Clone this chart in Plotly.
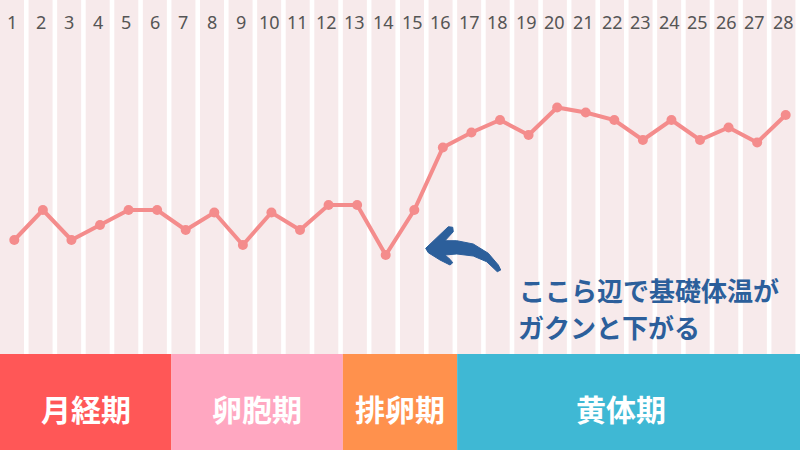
import plotly.graph_objects as go

# basal body temperature over a 28-day cycle
days = list(range(1, 29))
temps = [36.24, 36.36, 36.24, 36.30, 36.36, 36.36, 36.28, 36.35, 36.22, 36.35,
         36.28, 36.38, 36.38, 36.18, 36.36, 36.61, 36.67, 36.72, 36.66, 36.77,
         36.75, 36.72, 36.64, 36.72, 36.64, 36.69, 36.63, 36.74]

phase_names = ["月経期", "卵胞期", "排卵期", "黄体期"]
phase_first_day = [1, 7, 13, 17]
phase_last_day = [6, 12, 16, 28]
phase_colors = ["#FF5757", "#FFA7C1", "#FF914D", "#3FB8D4"]

note_lines = ["ここら辺で基礎体温が", "ガクンと下がる"]

W, H = 800, 450
BAND_TOP = 354  # pixel row where the phase band starts
band_h = (H - BAND_TOP) / H


def px(x, y):
    """pixel -> paper coords (margins are zero)"""
    return x / W, (H - y) / H


fig = go.Figure()

fig.add_trace(go.Scatter(
    x=days,
    y=temps,
    mode="lines+markers",
    line=dict(color="#F48C8C", width=4),
    marker=dict(color="#F48C8C", size=10),
    hoverinfo="skip",
    showlegend=False,
))

shapes = []
# pale column per day
for d in days:
    shapes.append(dict(
        type="rect", xref="x", yref="paper",
        x0=d - 0.5, x1=d + 0.34, y0=band_h, y1=1,
        fillcolor="#F7EAEB", line=dict(width=0), layer="below",
    ))

# phase band at the bottom
for name, a, b, c in zip(phase_names, phase_first_day, phase_last_day, phase_colors):
    shapes.append(dict(
        type="rect", xref="x", yref="paper",
        x0=a - 0.5, x1=b + 0.5, y0=0, y1=band_h,
        fillcolor=c, line=dict(width=0), layer="above",
    ))

# curved brush arrow pointing at the dip
arrow_pts = [
    (425.7, 248.3), (448.3, 226.7), (452.7, 227.3), (453.3, 231.7), (445, 240.7),
    (456.7, 240.7), (473.3, 244), (488.3, 253.3), (498.3, 265), (500.7, 270),
    (497.3, 271.7), (486.7, 261.7), (473.3, 256), (456.7, 254), (445, 255),
    (450, 259.3), (452.7, 262.7), (450, 265), (440, 260), (428.3, 252.7),
]
path = ""
for i, (x, y) in enumerate(arrow_pts):
    u, v = px(x, y)
    path += ("M" if i == 0 else "L") + f"{u:.4f},{v:.4f} "
path += "Z"
shapes.append(dict(
    type="path", xref="paper", yref="paper", path=path,
    fillcolor="#2C5F9B", line=dict(color="#2C5F9B", width=1), layer="above",
))

annotations = []
for d in days:
    annotations.append(dict(
        x=d - 0.08, y=px(0, 22)[1], xref="x", yref="paper",
        xanchor="center", yanchor="middle",
        text=str(d), showarrow=False,
        font=dict(family="Noto Sans", size=18, color="#555555"),
    ))

for i, (name, a, b) in enumerate(zip(phase_names, phase_first_day, phase_last_day)):
    annotations.append(dict(
        x=(a + b) / 2, y=px(0, 408)[1], xref="x", yref="paper",
        xanchor="center", yanchor="middle",
        xshift=-8 if i == 3 else 0,
        text=f"<b>{name}</b>", showarrow=False,
        font=dict(family="Noto Sans CJK JP", size=30, color="white"),
    ))

for line, (x, y) in zip(note_lines, [(517, 289), (516, 326)]):
    u, v = px(x, y)
    annotations.append(dict(
        x=u, y=v, xref="paper", yref="paper",
        xanchor="left", yanchor="middle",
        text=f"<b>{line}</b>", showarrow=False,
        font=dict(family="Noto Sans CJK JP", size=26, color="#2C5F9B"),
    ))

fig.update_layout(
    width=W,
    height=H,
    margin=dict(l=0, r=0, t=0, b=0),
    paper_bgcolor="white",
    plot_bgcolor="white",
    xaxis=dict(range=[0.5, 28.5], visible=False),
    yaxis=dict(range=[35.784, 37.2], domain=[band_h, 1], visible=False),
    shapes=shapes,
    annotations=annotations,
)

# drop the default page margin so the figure fills the window
fig.write_html(
    "out.html",
    config={"displayModeBar": False},
    post_script="document.body.style.margin='0';document.body.style.overflow='hidden';",
)
